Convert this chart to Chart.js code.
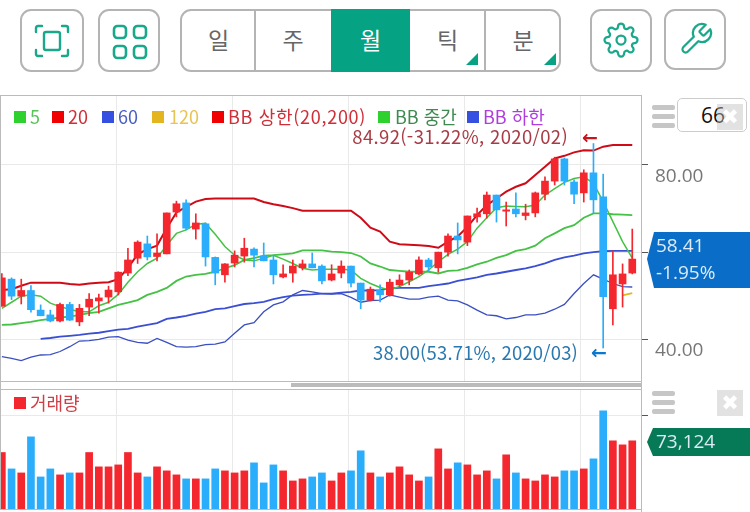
<!DOCTYPE html>
<html lang="ko">
<head>
<meta charset="utf-8">
<title>월봉 차트</title>
<script src="https://cdn.jsdelivr.net/npm/chart.js@4/dist/chart.umd.min.js"></script>
<style>
html, body { margin: 0; padding: 0; background: #fff; width: 750px; height: 512px; overflow: hidden; }
body { position: relative; font-family: "Noto Sans CJK KR", "Noto Sans", sans-serif; }
.abs, canvas { position: absolute; }
.btn { position: absolute; box-sizing: border-box; top: 9px; height: 63px; border: 2px solid #b4b4b4; border-radius: 11px; background: #fff; }
.tab { position: absolute; top: 9px; height: 63px; line-height: 60px; text-align: center; font-size: 23px; color: #666; }
.sep { position: absolute; top: 9px; height: 63px; width: 2px; background: #b4b4b4; }
.tri { position: absolute; top: 53px; width: 0; height: 0; border-left: 12px solid transparent; border-bottom: 12px solid #05a383; }
.line { position: absolute; background: #bbb; z-index: 3; }
.sq { position: absolute; top: 111px; width: 12px; height: 12px; z-index: 4; }
.lg { position: absolute; top: 101px; line-height: 30px; font-size: 18px; white-space: nowrap; z-index: 4; }
.note { position: absolute; font-size: 18.5px; letter-spacing: 0.35px; white-space: nowrap; line-height: 24px; z-index: 4; }
.arrow { position: absolute; font: bold 19px/24px "DejaVu Sans", sans-serif; z-index: 4; }
.bars i { display: block; position: absolute; left: 652px; width: 23px; height: 5px; border-radius: 2px; background: #c6c6c6; }
.close { position: absolute; left: 717px; width: 26px; height: 26px; background: rgba(190,190,190,.45); color: #fff; font: bold 21px/26px "DejaVu Sans", sans-serif; text-align: center; z-index: 6; }
.tag { position: absolute; left: 647px; width: 103px; z-index: 5; color: #dcebf5; font: 19px "Open Sans", sans-serif; }
.tag span { position: absolute; left: 9px; white-space: nowrap; }
</style>
</head>
<body>

<!-- 상단 버튼 -->
<div class="btn" style="left:20px;width:64px">
  <svg class="abs" style="left:12px;top:13px" width="36" height="34" fill="none" stroke="#1aa88c" stroke-width="2.4" stroke-linecap="round">
    <path d="M2 8V4q0-2 2-2h4M28 2h4q2 0 2 2v4M34 26v4q0 2-2 2h-4M8 32H4q-2 0-2-2v-4"/>
    <rect x="10" y="8" width="16" height="18" rx="2"/>
  </svg>
</div>
<div class="btn" style="left:98px;width:62px">
  <svg class="abs" style="left:12px;top:13px" width="36" height="36" fill="none" stroke="#1aa88c" stroke-width="2.6">
    <rect x="2" y="2" width="12" height="12" rx="3.5"/><rect x="22" y="2" width="12" height="12" rx="3.5"/>
    <rect x="2" y="22" width="12" height="12" rx="3.5"/><rect x="22" y="22" width="12" height="12" rx="3.5"/>
  </svg>
</div>
<div class="btn" style="left:180px;width:381px"></div>
<div class="abs" style="left:331px;top:9px;width:79px;height:63px;background:#05a383"></div>
<div class="sep" style="left:254px"></div>
<div class="sep" style="left:484px"></div>
<div class="tab" style="left:181px;width:75px">일</div>
<div class="tab" style="left:255px;width:76px">주</div>
<div class="tab" style="left:331px;width:79px;color:#fff">월</div>
<div class="tab" style="left:410px;width:75px">틱</div>
<div class="tab" style="left:485px;width:76px">분</div>
<div class="tri" style="left:466px"></div>
<div class="tri" style="left:544px"></div>
<div class="btn" style="left:590px;width:62px">
  <svg class="abs" style="left:11px;top:11px" width="36" height="36" viewBox="0 0 24 24" fill="none" stroke="#1aa88c" stroke-width="1.5" stroke-linejoin="round">
    <circle cx="12" cy="12" r="3"/>
    <path d="M19.4 15a1.65 1.65 0 0 0 .33 1.82l.06.06a2 2 0 0 1 0 2.83 2 2 0 0 1-2.83 0l-.06-.06a1.65 1.65 0 0 0-1.82-.33 1.65 1.65 0 0 0-1 1.51V21a2 2 0 0 1-2 2 2 2 0 0 1-2-2v-.09A1.65 1.65 0 0 0 9 19.4a1.65 1.65 0 0 0-1.82.33l-.06.06a2 2 0 0 1-2.83 0 2 2 0 0 1 0-2.83l.06-.06a1.65 1.65 0 0 0 .33-1.82 1.65 1.65 0 0 0-1.51-1H3a2 2 0 0 1-2-2 2 2 0 0 1 2-2h.09A1.65 1.65 0 0 0 4.6 9a1.65 1.65 0 0 0-.33-1.82l-.06-.06a2 2 0 0 1 0-2.83 2 2 0 0 1 2.83 0l.06.06a1.65 1.65 0 0 0 1.82.33H9a1.65 1.65 0 0 0 1-1.51V3a2 2 0 0 1 2-2 2 2 0 0 1 2 2v.09a1.65 1.65 0 0 0 1 1.51 1.65 1.65 0 0 0 1.82-.33l.06-.06a2 2 0 0 1 2.83 0 2 2 0 0 1 0 2.83l-.06.06a1.65 1.65 0 0 0-.33 1.82V9a1.65 1.65 0 0 0 1.51 1H21a2 2 0 0 1 2 2 2 2 0 0 1-2 2h-.09a1.65 1.65 0 0 0-1.51 1z"/>
  </svg>
</div>
<div class="btn" style="left:664px;width:62px;height:61px">
  <svg class="abs" style="left:12px;top:10px" width="36" height="36" viewBox="0 0 24 24" fill="none" stroke="#1aa88c" stroke-width="1.5" stroke-linejoin="round">
    <path d="M14.7 6.3a1 1 0 0 0 0 1.4l1.6 1.6a1 1 0 0 0 1.4 0l3.77-3.77a6 6 0 0 1-7.94 7.94l-6.91 6.91a2.12 2.12 0 0 1-3-3l6.91-6.91a6 6 0 0 1 7.94-7.94l-3.76 3.76z"/>
  </svg>
</div>

<!-- 차트 -->
<canvas id="priceChart" width="753" height="285" style="left:-3px;top:96px"></canvas>
<canvas id="volumeChart" width="753" height="120" style="left:-3px;top:389px"></canvas>

<!-- 패널 테두리 -->
<div class="line" style="left:0;top:95px;width:642px;height:1px"></div>
<div class="line" style="left:0;top:95px;width:1px;height:415px"></div>
<div class="line" style="left:641px;top:95px;width:1px;height:417px"></div>
<div class="line" style="left:0;top:381px;width:642px;height:1px"></div>
<div class="line" style="left:291px;top:383px;width:350px;height:4px"></div>
<div class="line" style="left:0;top:389px;width:642px;height:1px"></div>
<div class="line" style="left:0;top:509px;width:642px;height:1px"></div>

<!-- 범례 -->
<div class="sq" style="left:14px;background:#2fd12f"></div><div class="lg" style="left:30px;color:#57c457">5</div>
<div class="sq" style="left:52px;background:#f00000"></div><div class="lg" style="left:68px;color:#cf2f38">20</div>
<div class="sq" style="left:102px;background:#3550e0"></div><div class="lg" style="left:118px;color:#4a5fc4">60</div>
<div class="sq" style="left:152px;background:#e3b51e"></div><div class="lg" style="left:169px;color:#e8c455">120</div>
<div class="sq" style="left:212px;background:#f00000"></div><div class="lg" style="left:228px;color:#cf2f38;letter-spacing:.7px">BB 상한(20,200)</div>
<div class="sq" style="left:378px;background:#2fd12f"></div><div class="lg" style="left:395px;color:#3f8a50">BB 중간</div>
<div class="sq" style="left:467px;background:#3550e0"></div><div class="lg" style="left:483px;color:#b03be0">BB 하한</div>

<!-- 최고/최저 표시 -->
<div class="note" style="right:182px;top:124px;color:#a83c46">84.92(-31.22%, 2020/02)</div>
<div class="arrow" style="left:582px;top:125px;color:#c8141e">←</div>
<div class="note" style="right:172px;top:340px;color:#2a78b0;letter-spacing:.17px">38.00(53.71%, 2020/03)</div>
<div class="arrow" style="left:591px;top:340px;color:#0a78cc">←</div>

<!-- 우측 컨트롤 -->
<div class="bars"><i style="top:105px"></i><i style="top:114px"></i><i style="top:123px"></i></div>
<div class="abs" style="left:677px;top:98px;width:70px;height:34px;box-sizing:border-box;border:1px solid #ccc;border-radius:5px;background:#fff;font:21px/32px 'Open Sans',sans-serif;color:#111;padding-left:23px">66</div>
<div class="close" style="top:104px">✖</div>
<div class="bars"><i style="top:391px"></i><i style="top:400px"></i><i style="top:409px"></i></div>
<div class="close" style="top:390px">✖</div>

<!-- 현재가 / 거래량 태그 -->
<svg class="abs" style="left:647px;top:232px;z-index:5" width="103" height="56"><polygon points="7,0 103,0 103,56 7,56 0,27" fill="#0a6ec8"/></svg>
<div class="tag" style="top:232px;height:56px"><span style="top:0">58.41</span><span style="top:27px">-1.95%</span></div>
<svg class="abs" style="left:647px;top:428px;z-index:5" width="103" height="28"><polygon points="6,0 103,0 103,28 6,28 0,14" fill="#067a57"/></svg>
<div class="tag" style="top:428px;height:28px"><span style="top:0">73,124</span></div>

<script>
// 월봉 구분 (2015/01 ~ 2020/06)
const months = [
  "2015/01","2015/02","2015/03","2015/04","2015/05","2015/06","2015/07","2015/08","2015/09","2015/10","2015/11","2015/12",
  "2016/01","2016/02","2016/03","2016/04","2016/05","2016/06","2016/07","2016/08","2016/09","2016/10","2016/11","2016/12",
  "2017/01","2017/02","2017/03","2017/04","2017/05","2017/06","2017/07","2017/08","2017/09","2017/10","2017/11","2017/12",
  "2018/01","2018/02","2018/03","2018/04","2018/05","2018/06","2018/07","2018/08","2018/09","2018/10","2018/11","2018/12",
  "2019/01","2019/02","2019/03","2019/04","2019/05","2019/06","2019/07","2019/08","2019/09","2019/10","2019/11","2019/12",
  "2020/01","2020/02","2020/03","2020/04","2020/05","2020/06"
];

const opens = [
  47.6,53.8,49.9,51.2,46.7,45.6,44.2,48.0,44.0,47.4,
  48.8,49.7,50.9,55.2,58.6,61.9,59.0,59.6,69.2,71.3,
  65.3,66.5,58.8,54.8,57.5,59.1,60.7,59.1,58.2,54.3,
  55.2,56.4,57.3,56.8,53.6,55.2,56.8,52.9,49.0,51.3,
  50.2,52.5,53.6,55.0,58.2,56.4,60.0,63.7,62.3,68.1,
  68.8,73.1,69.4,69.9,68.4,69.0,73.3,76.3,81.4,76.1,
  73.6,78.2,72.7,47.0,52.7,55.2
];
const closes = [
  54.1,49.9,51.2,46.8,45.4,44.2,48.0,44.4,47.1,49.2,
  49.5,51.3,55.4,58.2,62.3,58.9,59.8,69.0,71.1,65.5,
  66.7,58.9,55.2,57.3,59.3,60.9,59.3,58.0,54.8,55.0,
  56.8,57.3,56.4,53.4,55.0,56.8,52.9,49.0,51.5,50.2,
  53.1,53.6,55.4,58.2,56.6,60.0,63.7,62.8,68.3,68.8,
  73.1,69.7,69.7,68.8,69.0,73.6,76.3,81.4,76.3,73.3,
  78.2,72.0,49.8,54.8,55.0,58.41
];
const highs = [
  55.1,54.1,53.8,52.3,47.9,46.7,48.3,48.5,48.0,50.5,
  50.4,52.2,55.5,60.9,62.6,63.7,64.2,69.0,71.7,72.0,
  68.8,66.7,58.9,57.4,60.3,63.2,61.0,62.1,59.3,57.1,
  58.2,58.2,59.8,57.1,57.1,58.0,56.8,52.9,52.0,52.5,
  53.8,54.8,55.9,58.9,58.6,60.0,64.2,66.7,68.3,70.1,
  73.8,73.1,71.5,73.6,71.0,73.8,77.3,81.8,81.6,76.6,
  78.9,84.92,77.9,60.3,57.3,65.3
];
const lows = [
  47.6,49.1,48.1,46.2,45.4,44.0,44.0,44.3,43.1,45.4,
  46.0,48.3,50.2,54.6,57.4,58.2,58.0,59.6,68.1,65.1,
  63.0,56.8,52.5,53.1,56.6,57.7,56.6,58.0,52.7,54.1,
  53.1,55.9,56.4,52.7,53.4,54.1,52.0,47.0,48.8,48.6,
  49.9,52.2,52.5,54.8,55.7,55.4,59.1,59.6,61.5,66.9,
  67.8,66.9,66.0,68.1,67.4,68.1,72.0,75.4,75.4,71.1,
  71.5,69.0,38.0,43.3,47.4,55.0
];

// 이동평균 / 볼린저 밴드
const ma5 = [
  47.1,48.5,49.9,50.2,49.9,48.3,47.5,46.9,46.3,46.3,
  47.7,48.5,50.3,53.1,55.5,57.4,58.6,61.6,64.3,65.1,
  66.4,66.6,64.1,61.3,59.3,58.2,58.0,58.6,59.3,58.4,
  57.4,56.3,55.9,56.1,56.1,56.1,55.9,54.0,52.8,51.9,
  51.3,52.1,53.2,54.4,55.9,57.8,59.5,60.7,62.4,65.5,
  67.9,70.2,70.6,70.5,70.4,70.8,73.1,74.6,76.0,76.9,
  77.3,75.8,71.6,67.0,62.4,58.6
];
const ma60 = [
  null,null,null,null,40.1,40.3,40.6,40.8,41.0,41.3,
  41.5,41.9,42.2,42.4,42.9,43.3,43.7,44.7,45.0,45.4,
  45.9,46.3,46.9,47.1,47.6,48.1,48.3,48.6,49.2,49.7,
  50.0,50.2,50.3,50.5,50.5,50.7,50.9,51.2,51.2,51.3,
  51.7,51.8,51.8,51.8,52.2,52.5,52.8,53.4,53.8,54.2,
  54.8,55.1,55.5,55.9,56.3,56.8,57.4,58.2,58.8,59.2,
  59.7,60.0,60.2,60.3,60.3,60.3
];
const ma120 = [
  null,null,null,null,null,null,null,null,null,null,
  null,null,null,null,null,null,null,null,null,null,
  null,null,null,null,null,null,null,null,null,null,
  null,null,null,null,null,null,null,null,null,null,
  null,null,null,null,null,null,null,null,null,null,
  null,null,null,null,null,null,null,null,null,null,
  null,null,null,null,50.1,50.6
];
const bbUpper = [
  51.3,51.5,52.3,53.0,53.0,53.0,53.0,52.7,52.5,52.8,
  53.0,53.1,53.8,56.4,59.5,60.7,61.5,65.5,69.1,70.4,
  71.6,72.2,72.3,72.3,72.3,72.3,72.3,71.5,71.0,70.6,
  70.1,69.5,69.5,69.5,69.5,69.5,69.5,67.9,65.6,64.7,
  62.4,61.8,61.7,61.6,61.4,61.0,62.4,63.6,65.8,68.5,
  70.8,72.3,73.9,75.0,75.8,77.7,79.6,81.5,82.1,82.9,
  83.4,83.3,84.2,84.6,84.6,84.6
];
const bbMiddle = [
  43.3,43.4,43.7,44.0,44.4,44.7,45.0,45.2,45.6,46.0,
  46.3,47.1,47.9,48.4,49.0,50.2,50.9,51.8,53.4,54.4,
  54.8,55.0,55.5,56.3,57.0,58.2,58.6,59.2,59.3,59.5,
  59.7,60.4,60.4,60.4,60.1,60.0,59.8,59.0,57.4,56.7,
  55.9,55.7,55.5,55.5,55.5,55.1,55.7,55.8,56.4,57.2,
  57.8,58.7,59.3,60.3,60.7,61.5,63.2,64.3,65.5,66.2,
  67.9,68.9,68.9,68.7,68.6,68.5
];
const bbLower = [
  36.0,35.6,35.1,35.9,36.4,36.5,37.2,38.3,39.6,39.7,
  40.0,40.5,40.6,39.8,39.3,39.1,40.2,39.3,38.3,38.2,
  38.3,38.8,38.9,39.4,41.4,43.3,43.8,46.3,47.9,48.6,
  50.2,51.2,50.9,50.5,50.4,50.5,49.6,48.5,48.9,49.0,
  50.2,49.7,49.2,49.2,49.7,49.9,49.0,48.8,47.9,46.7,
  45.6,45.4,44.7,45.0,45.6,45.6,46.0,46.9,48.0,50.5,
  52.8,54.8,53.8,52.8,52.1,52.0
];

const volumes = [
  60600,43000,38700,77400,34400,43000,36600,38700,38700,60600,
  45200,45200,47300,60600,38700,34400,45200,40900,36600,32300,
  32300,32300,43000,40900,38700,40900,49500,28000,47300,40900,
  30100,32300,34400,38700,30100,38700,40900,62400,38700,34400,
  38700,45200,36600,30100,34400,64500,43000,49500,47300,36600,
  40900,32300,58100,38700,32300,30100,36600,34400,40900,40900,
  43000,53800,105400,73124,68800,73124
];

// 축 눈금
const priceTicks = [80, 60, 40];
const volumeTicks = [100000];
const yearGrid = [11.86, 23.81, 35.77, 47.73, 59.69];

const UP = "#f4272e";
const DOWN = "#2aaefc";
const candleColors = closes.map((c, i) => (c >= opens[i] ? UP : DOWN));
const xy = (arr) => arr.map((y, i) => ({ x: i, y }));

function lineSet(label, data, color, width) {
  return { type: "line", label, data: xy(data), borderColor: color, borderWidth: width, pointRadius: 0, tension: 0, order: 3 };
}

function xAxis() {
  return {
    type: "linear", min: -0.5, max: 65.9, offset: false,
    afterBuildTicks: (s) => { s.ticks = yearGrid.map((value) => ({ value })); },
    ticks: { display: false },
    border: { display: false },
    grid: { offset: false, color: "#e9e9e9", lineWidth: 1, drawTicks: false }
  };
}

function yAxis(min, max, tickValues, showLabels) {
  return {
    position: "right", min, max,
    afterBuildTicks: (s) => { s.ticks = tickValues.map((value) => ({ value })); },
    // 라벨 때문에 차트 영역이 줄어들지 않도록 여백 제거
    afterFit: (s) => { s.width = 109; s.paddingTop = 0; s.paddingBottom = 0; if (s._margins) { s._margins.top = 0; s._margins.bottom = 0; } },
    border: { display: false },
    grid: { color: "#e9e9e9", lineWidth: 1, tickColor: "#555", tickLength: 7 },
    ticks: {
      display: showLabels, padding: 7, color: "#777",
      font: { family: "'Open Sans'", size: 19 },
      // 빈 첫 줄로 라벨을 눈금 아래로 내림
      callback: (v) => ["", v.toFixed(2)]
    }
  };
}

const baseOptions = {
  responsive: false,
  animation: false,
  layout: { padding: 0, autoPadding: false },
  plugins: { legend: { display: false }, tooltip: { enabled: false } }
};

new Chart(document.getElementById("priceChart"), {
  type: "bar",
  data: {
    datasets: [
      {
        label: "캔들", data: opens.map((o, i) => ({ x: i, y: [o, closes[i]] })),
        backgroundColor: candleColors, barThickness: 7, grouped: false, order: 1
      },
      {
        label: "꼬리", data: lows.map((l, i) => ({ x: i, y: [l, highs[i]] })),
        backgroundColor: candleColors, barThickness: 1, grouped: false, order: 2
      },
      lineSet("5", ma5, "#45c245", 1.5),
      lineSet("60", ma60, "#3a4fd2", 1.8),
      lineSet("120", ma120, "#e3b51e", 1.8),
      lineSet("BB 상한", bbUpper, "#cf0b18", 2),
      lineSet("BB 중간", bbMiddle, "#45c245", 1.8),
      lineSet("BB 하한", bbLower, "#3a4fc0", 1.3)
    ]
  },
  options: { ...baseOptions, scales: { x: xAxis(), y: yAxis(30.43, 95.83, priceTicks, true) } }
});

new Chart(document.getElementById("volumeChart"), {
  type: "bar",
  data: {
    datasets: [{ label: "거래량", data: xy(volumes), backgroundColor: candleColors, barThickness: 7 }]
  },
  options: { ...baseOptions, scales: { x: xAxis(), y: yAxis(0, 128700, volumeTicks, false) } }
});
</script>

<div class="sq" style="left:14px;top:397px;background:#f4272e"></div>
<div class="lg" style="left:30px;top:387px;color:#cf3d45">거래량</div>
</body>
</html>
